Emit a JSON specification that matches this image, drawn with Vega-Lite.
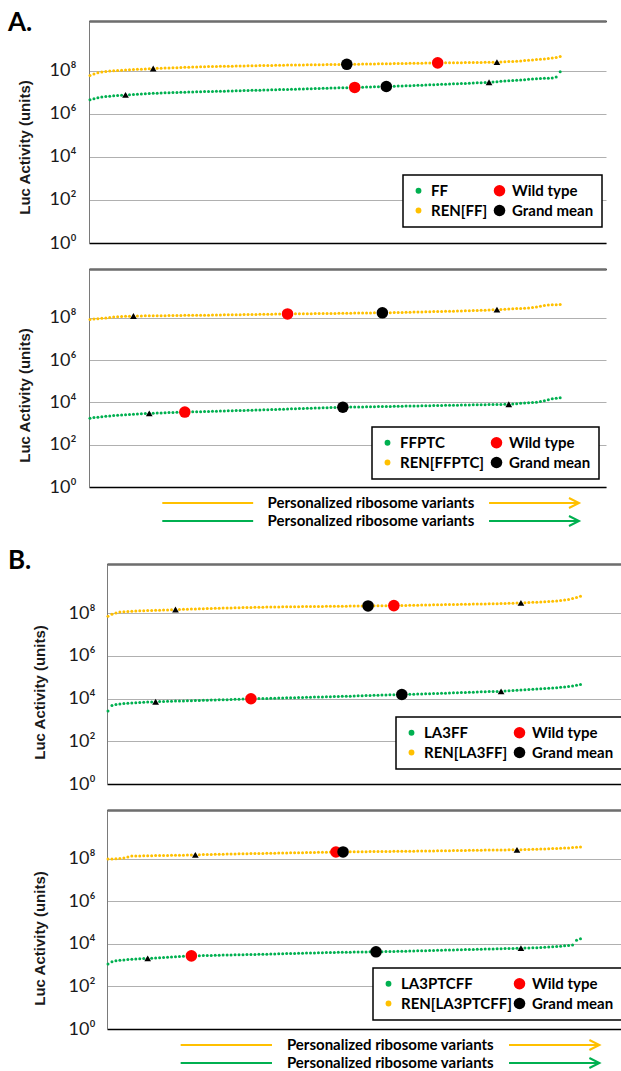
{
"$schema": "https://vega.github.io/schema/vega-lite/v6.json",
"padding": {"left": 8, "top": 10, "right": 0, "bottom": 0},
"background": "white",
"config": {"view": {"stroke": null}, "font": "Lato", "legend": {"orient": "none", "columns": 2, "title": null, "padding": 8, "strokeColor": "#000", "strokeWidth": 1.5, "fillColor": "#fff", "labelFont": "Lato", "labelFontSize": 15, "labelFontWeight": "bold", "labelColor": "#000", "symbolType": "circle", "symbolStrokeWidth": 0, "symbolOpacity": 1, "labelOffset": 5, "columnPadding": 4, "rowPadding": 4, "labelLimit": 300}},
"bounds": "flush",
"spacing": 26,
"resolve": {"scale": {"color": "independent", "size": "independent", "x": "independent", "y": "independent"}, "legend": {"color": "independent", "size": "independent"}},
"datasets": {
"A1_REN": [{"i":1,"v":5.9e7},{"i":2,"v":7.0e7},{"i":3,"v":7.9e7},{"i":4,"v":8.6e7},{"i":5,"v":9.1e7},{"i":6,"v":9.5e7},{"i":7,"v":9.8e7},{"i":8,"v":1.01e8},{"i":9,"v":1.04e8},{"i":10,"v":1.07e8},{"i":11,"v":1.09e8},{"i":12,"v":1.11e8},{"i":13,"v":1.14e8},{"i":14,"v":1.16e8},{"i":15,"v":1.19e8},{"i":16,"v":1.22e8},{"i":17,"v":1.25e8},{"i":18,"v":1.27e8},{"i":19,"v":1.29e8},{"i":20,"v":1.31e8},{"i":21,"v":1.33e8},{"i":22,"v":1.35e8},{"i":23,"v":1.37e8},{"i":24,"v":1.39e8},{"i":25,"v":1.41e8},{"i":26,"v":1.43e8},{"i":27,"v":1.45e8},{"i":28,"v":1.47e8},{"i":29,"v":1.5e8},{"i":30,"v":1.52e8},{"i":31,"v":1.54e8},{"i":32,"v":1.55e8},{"i":33,"v":1.56e8},{"i":34,"v":1.58e8},{"i":35,"v":1.59e8},{"i":36,"v":1.6e8},{"i":37,"v":1.61e8},{"i":38,"v":1.63e8},{"i":39,"v":1.64e8},{"i":40,"v":1.65e8},{"i":41,"v":1.67e8},{"i":42,"v":1.68e8},{"i":43,"v":1.69e8},{"i":44,"v":1.7e8},{"i":45,"v":1.72e8},{"i":46,"v":1.73e8},{"i":47,"v":1.74e8},{"i":48,"v":1.76e8},{"i":49,"v":1.77e8},{"i":50,"v":1.78e8},{"i":51,"v":1.8e8},{"i":52,"v":1.81e8},{"i":53,"v":1.82e8},{"i":54,"v":1.83e8},{"i":55,"v":1.84e8},{"i":56,"v":1.85e8},{"i":57,"v":1.86e8},{"i":58,"v":1.87e8},{"i":59,"v":1.88e8},{"i":60,"v":1.89e8},{"i":61,"v":1.9e8},{"i":62,"v":1.91e8},{"i":63,"v":1.92e8},{"i":64,"v":1.93e8},{"i":65,"v":1.94e8},{"i":66,"v":1.95e8},{"i":67,"v":1.96e8},{"i":68,"v":1.97e8},{"i":69,"v":1.99e8},{"i":70,"v":2.0e8},{"i":71,"v":2.01e8},{"i":72,"v":2.03e8},{"i":73,"v":2.04e8},{"i":74,"v":2.05e8},{"i":75,"v":2.07e8},{"i":76,"v":2.08e8},{"i":77,"v":2.09e8},{"i":78,"v":2.11e8},{"i":79,"v":2.12e8},{"i":80,"v":2.14e8},{"i":81,"v":2.15e8},{"i":82,"v":2.17e8},{"i":83,"v":2.18e8},{"i":84,"v":2.2e8},{"i":85,"v":2.21e8},{"i":86,"v":2.23e8},{"i":87,"v":2.25e8},{"i":88,"v":2.26e8},{"i":89,"v":2.28e8},{"i":90,"v":2.29e8},{"i":91,"v":2.3e8},{"i":92,"v":2.31e8},{"i":93,"v":2.32e8},{"i":94,"v":2.33e8},{"i":95,"v":2.34e8},{"i":96,"v":2.35e8},{"i":97,"v":2.36e8},{"i":98,"v":2.37e8},{"i":99,"v":2.39e8},{"i":100,"v":2.4e8},{"i":101,"v":2.41e8},{"i":102,"v":2.43e8},{"i":103,"v":2.44e8},{"i":104,"v":2.46e8},{"i":105,"v":2.5e8},{"i":106,"v":2.55e8},{"i":107,"v":2.61e8},{"i":108,"v":2.67e8},{"i":109,"v":2.73e8},{"i":110,"v":2.8e8},{"i":111,"v":2.9e8},{"i":112,"v":3.0e8},{"i":113,"v":3.12e8},{"i":114,"v":3.24e8},{"i":115,"v":3.36e8},{"i":116,"v":3.48e8},{"i":117,"v":3.6e8},{"i":118,"v":3.8e8},{"i":119,"v":4.1e8},{"i":120,"v":4.5e8}],
"A1_FF": [{"i":1,"v":4.4e6},{"i":2,"v":5.0e6},{"i":3,"v":5.5e6},{"i":4,"v":5.9e6},{"i":5,"v":6.2e6},{"i":6,"v":6.5e6},{"i":7,"v":6.8e6},{"i":8,"v":7.0e6},{"i":9,"v":7.2e6},{"i":10,"v":7.4e6},{"i":11,"v":7.6e6},{"i":12,"v":7.8e6},{"i":13,"v":8.0e6},{"i":14,"v":8.3e6},{"i":15,"v":8.5e6},{"i":16,"v":8.7e6},{"i":17,"v":8.85e6},{"i":18,"v":9.0e6},{"i":19,"v":9.15e6},{"i":20,"v":9.3e6},{"i":21,"v":9.45e6},{"i":22,"v":9.6e6},{"i":23,"v":9.75e6},{"i":24,"v":9.9e6},{"i":25,"v":1.0e7},{"i":26,"v":1.01e7},{"i":27,"v":1.02e7},{"i":28,"v":1.04e7},{"i":29,"v":1.05e7},{"i":30,"v":1.06e7},{"i":31,"v":1.07e7},{"i":32,"v":1.08e7},{"i":33,"v":1.09e7},{"i":34,"v":1.1e7},{"i":35,"v":1.11e7},{"i":36,"v":1.13e7},{"i":37,"v":1.14e7},{"i":38,"v":1.15e7},{"i":39,"v":1.17e7},{"i":40,"v":1.18e7},{"i":41,"v":1.19e7},{"i":42,"v":1.21e7},{"i":43,"v":1.22e7},{"i":44,"v":1.24e7},{"i":45,"v":1.25e7},{"i":46,"v":1.27e7},{"i":47,"v":1.28e7},{"i":48,"v":1.3e7},{"i":49,"v":1.31e7},{"i":50,"v":1.33e7},{"i":51,"v":1.34e7},{"i":52,"v":1.35e7},{"i":53,"v":1.37e7},{"i":54,"v":1.39e7},{"i":55,"v":1.41e7},{"i":56,"v":1.43e7},{"i":57,"v":1.45e7},{"i":58,"v":1.47e7},{"i":59,"v":1.49e7},{"i":60,"v":1.5e7},{"i":61,"v":1.52e7},{"i":62,"v":1.54e7},{"i":63,"v":1.56e7},{"i":64,"v":1.58e7},{"i":65,"v":1.6e7},{"i":66,"v":1.62e7},{"i":67,"v":1.64e7},{"i":68,"v":1.66e7},{"i":69,"v":1.68e7},{"i":70,"v":1.7e7},{"i":71,"v":1.72e7},{"i":72,"v":1.74e7},{"i":73,"v":1.76e7},{"i":74,"v":1.78e7},{"i":75,"v":1.8e7},{"i":76,"v":1.82e7},{"i":77,"v":1.85e7},{"i":78,"v":1.88e7},{"i":79,"v":1.91e7},{"i":80,"v":1.94e7},{"i":81,"v":1.97e7},{"i":82,"v":2.0e7},{"i":83,"v":2.03e7},{"i":84,"v":2.07e7},{"i":85,"v":2.1e7},{"i":86,"v":2.14e7},{"i":87,"v":2.18e7},{"i":88,"v":2.22e7},{"i":89,"v":2.26e7},{"i":90,"v":2.3e7},{"i":91,"v":2.34e7},{"i":92,"v":2.38e7},{"i":93,"v":2.42e7},{"i":94,"v":2.46e7},{"i":95,"v":2.5e7},{"i":96,"v":2.55e7},{"i":97,"v":2.6e7},{"i":98,"v":2.65e7},{"i":99,"v":2.7e7},{"i":100,"v":2.76e7},{"i":101,"v":2.82e7},{"i":102,"v":2.88e7},{"i":103,"v":2.97e7},{"i":104,"v":3.07e7},{"i":105,"v":3.17e7},{"i":106,"v":3.28e7},{"i":107,"v":3.39e7},{"i":108,"v":3.5e7},{"i":109,"v":3.6e7},{"i":110,"v":3.7e7},{"i":111,"v":3.8e7},{"i":112,"v":3.95e7},{"i":113,"v":4.07e7},{"i":114,"v":4.17e7},{"i":115,"v":4.27e7},{"i":116,"v":4.37e7},{"i":117,"v":4.47e7},{"i":118,"v":4.57e7},{"i":119,"v":5.0e7},{"i":120,"v":8.9e7}],
"A2_REN": [{"i":1,"v":8.3e7},{"i":2,"v":8.6e7},{"i":3,"v":8.9e7},{"i":4,"v":9.3e7},{"i":5,"v":9.8e7},{"i":6,"v":1.03e8},{"i":7,"v":1.07e8},{"i":8,"v":1.1e8},{"i":9,"v":1.13e8},{"i":10,"v":1.16e8},{"i":11,"v":1.18e8},{"i":12,"v":1.2e8},{"i":13,"v":1.21e8},{"i":14,"v":1.21e8},{"i":15,"v":1.22e8},{"i":16,"v":1.23e8},{"i":17,"v":1.23e8},{"i":18,"v":1.24e8},{"i":19,"v":1.25e8},{"i":20,"v":1.25e8},{"i":21,"v":1.26e8},{"i":22,"v":1.27e8},{"i":23,"v":1.27e8},{"i":24,"v":1.28e8},{"i":25,"v":1.29e8},{"i":26,"v":1.29e8},{"i":27,"v":1.3e8},{"i":28,"v":1.3e8},{"i":29,"v":1.31e8},{"i":30,"v":1.31e8},{"i":31,"v":1.32e8},{"i":32,"v":1.33e8},{"i":33,"v":1.34e8},{"i":34,"v":1.35e8},{"i":35,"v":1.36e8},{"i":36,"v":1.36e8},{"i":37,"v":1.37e8},{"i":38,"v":1.38e8},{"i":39,"v":1.39e8},{"i":40,"v":1.4e8},{"i":41,"v":1.41e8},{"i":42,"v":1.42e8},{"i":43,"v":1.43e8},{"i":44,"v":1.44e8},{"i":45,"v":1.45e8},{"i":46,"v":1.46e8},{"i":47,"v":1.47e8},{"i":48,"v":1.48e8},{"i":49,"v":1.49e8},{"i":50,"v":1.5e8},{"i":51,"v":1.51e8},{"i":52,"v":1.52e8},{"i":53,"v":1.52e8},{"i":54,"v":1.53e8},{"i":55,"v":1.54e8},{"i":56,"v":1.55e8},{"i":57,"v":1.55e8},{"i":58,"v":1.56e8},{"i":59,"v":1.57e8},{"i":60,"v":1.58e8},{"i":61,"v":1.59e8},{"i":62,"v":1.6e8},{"i":63,"v":1.6e8},{"i":64,"v":1.61e8},{"i":65,"v":1.62e8},{"i":66,"v":1.63e8},{"i":67,"v":1.64e8},{"i":68,"v":1.65e8},{"i":69,"v":1.66e8},{"i":70,"v":1.67e8},{"i":71,"v":1.67e8},{"i":72,"v":1.68e8},{"i":73,"v":1.69e8},{"i":74,"v":1.7e8},{"i":75,"v":1.7e8},{"i":76,"v":1.72e8},{"i":77,"v":1.73e8},{"i":78,"v":1.75e8},{"i":79,"v":1.76e8},{"i":80,"v":1.78e8},{"i":81,"v":1.8e8},{"i":82,"v":1.82e8},{"i":83,"v":1.84e8},{"i":84,"v":1.86e8},{"i":85,"v":1.88e8},{"i":86,"v":1.9e8},{"i":87,"v":1.92e8},{"i":88,"v":1.94e8},{"i":89,"v":1.96e8},{"i":90,"v":1.98e8},{"i":91,"v":2.0e8},{"i":92,"v":2.02e8},{"i":93,"v":2.04e8},{"i":94,"v":2.07e8},{"i":95,"v":2.09e8},{"i":96,"v":2.12e8},{"i":97,"v":2.14e8},{"i":98,"v":2.17e8},{"i":99,"v":2.2e8},{"i":100,"v":2.23e8},{"i":101,"v":2.27e8},{"i":102,"v":2.31e8},{"i":103,"v":2.35e8},{"i":104,"v":2.4e8},{"i":105,"v":2.45e8},{"i":106,"v":2.51e8},{"i":107,"v":2.57e8},{"i":108,"v":2.63e8},{"i":109,"v":2.69e8},{"i":110,"v":2.75e8},{"i":111,"v":2.81e8},{"i":112,"v":2.88e8},{"i":113,"v":3.0e8},{"i":114,"v":3.16e8},{"i":115,"v":3.45e8},{"i":116,"v":3.8e8},{"i":117,"v":3.95e8},{"i":118,"v":4.05e8},{"i":119,"v":4.1e8},{"i":120,"v":4.17e8}],
"A2_FF": [{"i":1,"v":1.78e3},{"i":2,"v":1.9e3},{"i":3,"v":2.0e3},{"i":4,"v":2.1e3},{"i":5,"v":2.2e3},{"i":6,"v":2.29e3},{"i":7,"v":2.37e3},{"i":8,"v":2.44e3},{"i":9,"v":2.51e3},{"i":10,"v":2.58e3},{"i":11,"v":2.65e3},{"i":12,"v":2.72e3},{"i":13,"v":2.8e3},{"i":14,"v":2.88e3},{"i":15,"v":2.95e3},{"i":16,"v":3.02e3},{"i":17,"v":3.07e3},{"i":18,"v":3.12e3},{"i":19,"v":3.17e3},{"i":20,"v":3.22e3},{"i":21,"v":3.27e3},{"i":22,"v":3.32e3},{"i":23,"v":3.37e3},{"i":24,"v":3.42e3},{"i":25,"v":3.47e3},{"i":26,"v":3.51e3},{"i":27,"v":3.55e3},{"i":28,"v":3.6e3},{"i":29,"v":3.64e3},{"i":30,"v":3.69e3},{"i":31,"v":3.73e3},{"i":32,"v":3.78e3},{"i":33,"v":3.82e3},{"i":34,"v":3.87e3},{"i":35,"v":3.92e3},{"i":36,"v":3.97e3},{"i":37,"v":4.02e3},{"i":38,"v":4.07e3},{"i":39,"v":4.12e3},{"i":40,"v":4.17e3},{"i":41,"v":4.22e3},{"i":42,"v":4.27e3},{"i":43,"v":4.33e3},{"i":44,"v":4.39e3},{"i":45,"v":4.45e3},{"i":46,"v":4.52e3},{"i":47,"v":4.58e3},{"i":48,"v":4.64e3},{"i":49,"v":4.71e3},{"i":50,"v":4.78e3},{"i":51,"v":4.85e3},{"i":52,"v":4.92e3},{"i":53,"v":4.99e3},{"i":54,"v":5.06e3},{"i":55,"v":5.13e3},{"i":56,"v":5.2e3},{"i":57,"v":5.27e3},{"i":58,"v":5.35e3},{"i":59,"v":5.42e3},{"i":60,"v":5.5e3},{"i":61,"v":5.58e3},{"i":62,"v":5.66e3},{"i":63,"v":5.74e3},{"i":64,"v":5.82e3},{"i":65,"v":5.89e3},{"i":66,"v":5.93e3},{"i":67,"v":5.97e3},{"i":68,"v":6.02e3},{"i":69,"v":6.06e3},{"i":70,"v":6.11e3},{"i":71,"v":6.15e3},{"i":72,"v":6.2e3},{"i":73,"v":6.25e3},{"i":74,"v":6.3e3},{"i":75,"v":6.35e3},{"i":76,"v":6.4e3},{"i":77,"v":6.45e3},{"i":78,"v":6.5e3},{"i":79,"v":6.55e3},{"i":80,"v":6.6e3},{"i":81,"v":6.65e3},{"i":82,"v":6.7e3},{"i":83,"v":6.75e3},{"i":84,"v":6.8e3},{"i":85,"v":6.86e3},{"i":86,"v":6.92e3},{"i":87,"v":6.98e3},{"i":88,"v":7.04e3},{"i":89,"v":7.1e3},{"i":90,"v":7.16e3},{"i":91,"v":7.2e3},{"i":92,"v":7.24e3},{"i":93,"v":7.3e3},{"i":94,"v":7.36e3},{"i":95,"v":7.42e3},{"i":96,"v":7.48e3},{"i":97,"v":7.54e3},{"i":98,"v":7.6e3},{"i":99,"v":7.66e3},{"i":100,"v":7.72e3},{"i":101,"v":7.78e3},{"i":102,"v":7.84e3},{"i":103,"v":7.9e3},{"i":104,"v":7.96e3},{"i":105,"v":8.02e3},{"i":106,"v":8.08e3},{"i":107,"v":8.13e3},{"i":108,"v":8.4e3},{"i":109,"v":8.7e3},{"i":110,"v":9.0e3},{"i":111,"v":9.3e3},{"i":112,"v":9.6e3},{"i":113,"v":9.9e3},{"i":114,"v":1.02e4},{"i":115,"v":1.1e4},{"i":116,"v":1.2e4},{"i":117,"v":1.32e4},{"i":118,"v":1.48e4},{"i":119,"v":1.58e4},{"i":120,"v":1.66e4}],
"B1_REN": [{"i":1,"v":7.2e7},{"i":2,"v":8.9e7},{"i":3,"v":1.02e8},{"i":4,"v":1.12e8},{"i":5,"v":1.17e8},{"i":6,"v":1.2e8},{"i":7,"v":1.23e8},{"i":8,"v":1.26e8},{"i":9,"v":1.28e8},{"i":10,"v":1.3e8},{"i":11,"v":1.32e8},{"i":12,"v":1.34e8},{"i":13,"v":1.36e8},{"i":14,"v":1.38e8},{"i":15,"v":1.4e8},{"i":16,"v":1.42e8},{"i":17,"v":1.45e8},{"i":18,"v":1.48e8},{"i":19,"v":1.5e8},{"i":20,"v":1.52e8},{"i":21,"v":1.54e8},{"i":22,"v":1.56e8},{"i":23,"v":1.58e8},{"i":24,"v":1.6e8},{"i":25,"v":1.62e8},{"i":26,"v":1.64e8},{"i":27,"v":1.66e8},{"i":28,"v":1.68e8},{"i":29,"v":1.7e8},{"i":30,"v":1.72e8},{"i":31,"v":1.74e8},{"i":32,"v":1.76e8},{"i":33,"v":1.78e8},{"i":34,"v":1.8e8},{"i":35,"v":1.82e8},{"i":36,"v":1.84e8},{"i":37,"v":1.86e8},{"i":38,"v":1.87e8},{"i":39,"v":1.89e8},{"i":40,"v":1.9e8},{"i":41,"v":1.92e8},{"i":42,"v":1.93e8},{"i":43,"v":1.95e8},{"i":44,"v":1.96e8},{"i":45,"v":1.97e8},{"i":46,"v":1.98e8},{"i":47,"v":1.99e8},{"i":48,"v":2.0e8},{"i":49,"v":2.01e8},{"i":50,"v":2.02e8},{"i":51,"v":2.03e8},{"i":52,"v":2.04e8},{"i":53,"v":2.05e8},{"i":54,"v":2.06e8},{"i":55,"v":2.07e8},{"i":56,"v":2.08e8},{"i":57,"v":2.09e8},{"i":58,"v":2.1e8},{"i":59,"v":2.11e8},{"i":60,"v":2.12e8},{"i":61,"v":2.13e8},{"i":62,"v":2.14e8},{"i":63,"v":2.15e8},{"i":64,"v":2.16e8},{"i":65,"v":2.17e8},{"i":66,"v":2.18e8},{"i":67,"v":2.19e8},{"i":68,"v":2.2e8},{"i":69,"v":2.21e8},{"i":70,"v":2.22e8},{"i":71,"v":2.23e8},{"i":72,"v":2.24e8},{"i":73,"v":2.25e8},{"i":74,"v":2.27e8},{"i":75,"v":2.29e8},{"i":76,"v":2.31e8},{"i":77,"v":2.33e8},{"i":78,"v":2.35e8},{"i":79,"v":2.37e8},{"i":80,"v":2.39e8},{"i":81,"v":2.41e8},{"i":82,"v":2.43e8},{"i":83,"v":2.45e8},{"i":84,"v":2.47e8},{"i":85,"v":2.49e8},{"i":86,"v":2.51e8},{"i":87,"v":2.53e8},{"i":88,"v":2.55e8},{"i":89,"v":2.57e8},{"i":90,"v":2.59e8},{"i":91,"v":2.61e8},{"i":92,"v":2.63e8},{"i":93,"v":2.65e8},{"i":94,"v":2.67e8},{"i":95,"v":2.69e8},{"i":96,"v":2.71e8},{"i":97,"v":2.73e8},{"i":98,"v":2.76e8},{"i":99,"v":2.79e8},{"i":100,"v":2.82e8},{"i":101,"v":2.85e8},{"i":102,"v":2.88e8},{"i":103,"v":2.92e8},{"i":104,"v":2.97e8},{"i":105,"v":3.02e8},{"i":106,"v":3.08e8},{"i":107,"v":3.14e8},{"i":108,"v":3.2e8},{"i":109,"v":3.27e8},{"i":110,"v":3.34e8},{"i":111,"v":3.42e8},{"i":112,"v":3.5e8},{"i":113,"v":3.6e8},{"i":114,"v":3.72e8},{"i":115,"v":3.88e8},{"i":116,"v":4.1e8},{"i":117,"v":4.37e8},{"i":118,"v":4.8e8},{"i":119,"v":5.4e8},{"i":120,"v":6.2e8}],
"B1_FF": [{"i":1,"v":2.6e3},{"i":2,"v":4.7e3},{"i":3,"v":5.3e3},{"i":4,"v":5.6e3},{"i":5,"v":5.8e3},{"i":6,"v":6.0e3},{"i":7,"v":6.2e3},{"i":8,"v":6.4e3},{"i":9,"v":6.55e3},{"i":10,"v":6.7e3},{"i":11,"v":6.85e3},{"i":12,"v":7.0e3},{"i":13,"v":7.1e3},{"i":14,"v":7.2e3},{"i":15,"v":7.3e3},{"i":16,"v":7.4e3},{"i":17,"v":7.5e3},{"i":18,"v":7.6e3},{"i":19,"v":7.7e3},{"i":20,"v":7.8e3},{"i":21,"v":7.9e3},{"i":22,"v":8.0e3},{"i":23,"v":8.1e3},{"i":24,"v":8.2e3},{"i":25,"v":8.3e3},{"i":26,"v":8.4e3},{"i":27,"v":8.5e3},{"i":28,"v":8.6e3},{"i":29,"v":8.7e3},{"i":30,"v":8.8e3},{"i":31,"v":8.9e3},{"i":32,"v":9.05e3},{"i":33,"v":9.2e3},{"i":34,"v":9.35e3},{"i":35,"v":9.5e3},{"i":36,"v":9.65e3},{"i":37,"v":9.8e3},{"i":38,"v":9.9e3},{"i":39,"v":1.0e4},{"i":40,"v":1.01e4},{"i":41,"v":1.02e4},{"i":42,"v":1.03e4},{"i":43,"v":1.04e4},{"i":44,"v":1.06e4},{"i":45,"v":1.07e4},{"i":46,"v":1.08e4},{"i":47,"v":1.09e4},{"i":48,"v":1.1e4},{"i":49,"v":1.12e4},{"i":50,"v":1.13e4},{"i":51,"v":1.14e4},{"i":52,"v":1.16e4},{"i":53,"v":1.17e4},{"i":54,"v":1.18e4},{"i":55,"v":1.2e4},{"i":56,"v":1.21e4},{"i":57,"v":1.23e4},{"i":58,"v":1.24e4},{"i":59,"v":1.26e4},{"i":60,"v":1.27e4},{"i":61,"v":1.29e4},{"i":62,"v":1.3e4},{"i":63,"v":1.32e4},{"i":64,"v":1.34e4},{"i":65,"v":1.36e4},{"i":66,"v":1.38e4},{"i":67,"v":1.4e4},{"i":68,"v":1.42e4},{"i":69,"v":1.44e4},{"i":70,"v":1.46e4},{"i":71,"v":1.48e4},{"i":72,"v":1.5e4},{"i":73,"v":1.52e4},{"i":74,"v":1.54e4},{"i":75,"v":1.55e4},{"i":76,"v":1.57e4},{"i":77,"v":1.59e4},{"i":78,"v":1.61e4},{"i":79,"v":1.63e4},{"i":80,"v":1.65e4},{"i":81,"v":1.67e4},{"i":82,"v":1.69e4},{"i":83,"v":1.71e4},{"i":84,"v":1.73e4},{"i":85,"v":1.76e4},{"i":86,"v":1.79e4},{"i":87,"v":1.82e4},{"i":88,"v":1.85e4},{"i":89,"v":1.88e4},{"i":90,"v":1.91e4},{"i":91,"v":1.94e4},{"i":92,"v":1.97e4},{"i":93,"v":2.0e4},{"i":94,"v":2.03e4},{"i":95,"v":2.06e4},{"i":96,"v":2.09e4},{"i":97,"v":2.12e4},{"i":98,"v":2.15e4},{"i":99,"v":2.17e4},{"i":100,"v":2.19e4},{"i":101,"v":2.25e4},{"i":102,"v":2.31e4},{"i":103,"v":2.37e4},{"i":104,"v":2.44e4},{"i":105,"v":2.51e4},{"i":106,"v":2.58e4},{"i":107,"v":2.65e4},{"i":108,"v":2.72e4},{"i":109,"v":2.8e4},{"i":110,"v":2.88e4},{"i":111,"v":2.96e4},{"i":112,"v":3.05e4},{"i":113,"v":3.14e4},{"i":114,"v":3.24e4},{"i":115,"v":3.35e4},{"i":116,"v":3.5e4},{"i":117,"v":3.7e4},{"i":118,"v":3.9e4},{"i":119,"v":4.2e4},{"i":120,"v":4.5e4}],
"B2_REN": [{"i":1,"v":9.8e7},{"i":2,"v":1.0e8},{"i":3,"v":1.03e8},{"i":4,"v":1.06e8},{"i":5,"v":1.1e8},{"i":6,"v":1.24e8},{"i":7,"v":1.36e8},{"i":8,"v":1.38e8},{"i":9,"v":1.39e8},{"i":10,"v":1.4e8},{"i":11,"v":1.41e8},{"i":12,"v":1.42e8},{"i":13,"v":1.43e8},{"i":14,"v":1.44e8},{"i":15,"v":1.45e8},{"i":16,"v":1.46e8},{"i":17,"v":1.47e8},{"i":18,"v":1.48e8},{"i":19,"v":1.49e8},{"i":20,"v":1.5e8},{"i":21,"v":1.52e8},{"i":22,"v":1.54e8},{"i":23,"v":1.56e8},{"i":24,"v":1.58e8},{"i":25,"v":1.6e8},{"i":26,"v":1.61e8},{"i":27,"v":1.63e8},{"i":28,"v":1.64e8},{"i":29,"v":1.66e8},{"i":30,"v":1.67e8},{"i":31,"v":1.69e8},{"i":32,"v":1.7e8},{"i":33,"v":1.72e8},{"i":34,"v":1.73e8},{"i":35,"v":1.75e8},{"i":36,"v":1.76e8},{"i":37,"v":1.78e8},{"i":38,"v":1.79e8},{"i":39,"v":1.81e8},{"i":40,"v":1.82e8},{"i":41,"v":1.84e8},{"i":42,"v":1.85e8},{"i":43,"v":1.87e8},{"i":44,"v":1.88e8},{"i":45,"v":1.9e8},{"i":46,"v":1.91e8},{"i":47,"v":1.93e8},{"i":48,"v":1.94e8},{"i":49,"v":1.96e8},{"i":50,"v":1.97e8},{"i":51,"v":1.99e8},{"i":52,"v":2.0e8},{"i":53,"v":2.02e8},{"i":54,"v":2.04e8},{"i":55,"v":2.06e8},{"i":56,"v":2.08e8},{"i":57,"v":2.1e8},{"i":58,"v":2.12e8},{"i":59,"v":2.13e8},{"i":60,"v":2.14e8},{"i":61,"v":2.15e8},{"i":62,"v":2.16e8},{"i":63,"v":2.17e8},{"i":64,"v":2.18e8},{"i":65,"v":2.19e8},{"i":66,"v":2.2e8},{"i":67,"v":2.21e8},{"i":68,"v":2.22e8},{"i":69,"v":2.23e8},{"i":70,"v":2.24e8},{"i":71,"v":2.25e8},{"i":72,"v":2.26e8},{"i":73,"v":2.27e8},{"i":74,"v":2.28e8},{"i":75,"v":2.29e8},{"i":76,"v":2.3e8},{"i":77,"v":2.31e8},{"i":78,"v":2.32e8},{"i":79,"v":2.34e8},{"i":80,"v":2.35e8},{"i":81,"v":2.36e8},{"i":82,"v":2.37e8},{"i":83,"v":2.39e8},{"i":84,"v":2.4e8},{"i":85,"v":2.42e8},{"i":86,"v":2.43e8},{"i":87,"v":2.45e8},{"i":88,"v":2.46e8},{"i":89,"v":2.48e8},{"i":90,"v":2.5e8},{"i":91,"v":2.51e8},{"i":92,"v":2.53e8},{"i":93,"v":2.55e8},{"i":94,"v":2.56e8},{"i":95,"v":2.58e8},{"i":96,"v":2.6e8},{"i":97,"v":2.61e8},{"i":98,"v":2.63e8},{"i":99,"v":2.64e8},{"i":100,"v":2.65e8},{"i":101,"v":2.66e8},{"i":102,"v":2.67e8},{"i":103,"v":2.68e8},{"i":104,"v":2.69e8},{"i":105,"v":2.72e8},{"i":106,"v":2.75e8},{"i":107,"v":2.78e8},{"i":108,"v":2.82e8},{"i":109,"v":2.86e8},{"i":110,"v":2.9e8},{"i":111,"v":2.95e8},{"i":112,"v":3.0e8},{"i":113,"v":3.05e8},{"i":114,"v":3.1e8},{"i":115,"v":3.16e8},{"i":116,"v":3.22e8},{"i":117,"v":3.3e8},{"i":118,"v":3.4e8},{"i":119,"v":3.5e8},{"i":120,"v":3.6e8}],
"B2_FF": [{"i":1,"v":1.15e3},{"i":2,"v":1.45e3},{"i":3,"v":1.62e3},{"i":4,"v":1.7e3},{"i":5,"v":1.77e3},{"i":6,"v":1.84e3},{"i":7,"v":1.9e3},{"i":8,"v":1.95e3},{"i":9,"v":2.0e3},{"i":10,"v":2.05e3},{"i":11,"v":2.09e3},{"i":12,"v":2.15e3},{"i":13,"v":2.2e3},{"i":14,"v":2.26e3},{"i":15,"v":2.32e3},{"i":16,"v":2.38e3},{"i":17,"v":2.44e3},{"i":18,"v":2.5e3},{"i":19,"v":2.57e3},{"i":20,"v":2.63e3},{"i":21,"v":2.69e3},{"i":22,"v":2.75e3},{"i":23,"v":2.78e3},{"i":24,"v":2.81e3},{"i":25,"v":2.84e3},{"i":26,"v":2.87e3},{"i":27,"v":2.9e3},{"i":28,"v":2.93e3},{"i":29,"v":2.96e3},{"i":30,"v":2.99e3},{"i":31,"v":3.02e3},{"i":32,"v":3.05e3},{"i":33,"v":3.08e3},{"i":34,"v":3.11e3},{"i":35,"v":3.14e3},{"i":36,"v":3.17e3},{"i":37,"v":3.2e3},{"i":38,"v":3.23e3},{"i":39,"v":3.26e3},{"i":40,"v":3.29e3},{"i":41,"v":3.32e3},{"i":42,"v":3.36e3},{"i":43,"v":3.4e3},{"i":44,"v":3.44e3},{"i":45,"v":3.48e3},{"i":46,"v":3.52e3},{"i":47,"v":3.56e3},{"i":48,"v":3.6e3},{"i":49,"v":3.64e3},{"i":50,"v":3.68e3},{"i":51,"v":3.72e3},{"i":52,"v":3.76e3},{"i":53,"v":3.8e3},{"i":54,"v":3.84e3},{"i":55,"v":3.88e3},{"i":56,"v":3.92e3},{"i":57,"v":3.96e3},{"i":58,"v":4.0e3},{"i":59,"v":4.03e3},{"i":60,"v":4.06e3},{"i":61,"v":4.09e3},{"i":62,"v":4.12e3},{"i":63,"v":4.15e3},{"i":64,"v":4.18e3},{"i":65,"v":4.2e3},{"i":66,"v":4.22e3},{"i":67,"v":4.25e3},{"i":68,"v":4.27e3},{"i":69,"v":4.3e3},{"i":70,"v":4.34e3},{"i":71,"v":4.38e3},{"i":72,"v":4.42e3},{"i":73,"v":4.46e3},{"i":74,"v":4.5e3},{"i":75,"v":4.55e3},{"i":76,"v":4.6e3},{"i":77,"v":4.65e3},{"i":78,"v":4.7e3},{"i":79,"v":4.75e3},{"i":80,"v":4.8e3},{"i":81,"v":4.85e3},{"i":82,"v":4.9e3},{"i":83,"v":4.96e3},{"i":84,"v":5.02e3},{"i":85,"v":5.08e3},{"i":86,"v":5.14e3},{"i":87,"v":5.2e3},{"i":88,"v":5.26e3},{"i":89,"v":5.32e3},{"i":90,"v":5.38e3},{"i":91,"v":5.44e3},{"i":92,"v":5.5e3},{"i":93,"v":5.56e3},{"i":94,"v":5.62e3},{"i":95,"v":5.68e3},{"i":96,"v":5.74e3},{"i":97,"v":5.8e3},{"i":98,"v":5.86e3},{"i":99,"v":5.92e3},{"i":100,"v":5.98e3},{"i":101,"v":6.04e3},{"i":102,"v":6.1e3},{"i":103,"v":6.17e3},{"i":104,"v":6.24e3},{"i":105,"v":6.31e3},{"i":106,"v":6.4e3},{"i":107,"v":6.5e3},{"i":108,"v":6.6e3},{"i":109,"v":6.7e3},{"i":110,"v":6.85e3},{"i":111,"v":7.0e3},{"i":112,"v":7.2e3},{"i":113,"v":7.4e3},{"i":114,"v":7.6e3},{"i":115,"v":7.9e3},{"i":116,"v":8.2e3},{"i":117,"v":8.5e3},{"i":118,"v":8.9e3},{"i":119,"v":1.48e4},{"i":120,"v":1.78e4}],
"A1_tri": [{"i":17,"v":1.25e8},{"i":104,"v":2.46e8},{"i":10,"v":7.4e6},{"i":102,"v":2.88e7}],
"A1_mk": [{"m":"Wild type","i":89,"v":2.28e8},{"m":"Wild type","i":68,"v":1.66e7},{"m":"Grand mean","i":66,"v":1.95e8},{"m":"Grand mean","i":76,"v":1.82e7}],
"A2_tri": [{"i":12,"v":1.2e8},{"i":104,"v":2.4e8},{"i":16,"v":3.02e3},{"i":107,"v":8.13e3}],
"A2_mk": [{"m":"Wild type","i":51,"v":1.51e8},{"m":"Wild type","i":25,"v":3.47e3},{"m":"Grand mean","i":75,"v":1.7e8},{"m":"Grand mean","i":65,"v":5.89e3}],
"B1_tri": [{"i":18,"v":1.48e8},{"i":105,"v":3.02e8},{"i":13,"v":7.1e3},{"i":100,"v":2.19e4}],
"B1_mk": [{"m":"Wild type","i":73,"v":2.25e8},{"m":"Wild type","i":37,"v":9.8e3},{"m":"Grand mean","i":66.5,"v":2.18e8},{"m":"Grand mean","i":75,"v":1.55e4}],
"B2_tri": [{"i":23,"v":1.56e8},{"i":104,"v":2.69e8},{"i":11,"v":2.09e3},{"i":105,"v":6.31e3}],
"B2_mk": [{"m":"Wild type","i":58.4,"v":2.12e8},{"m":"Wild type","i":22,"v":2.75e3},{"m":"Grand mean","i":60.2,"v":2.14e8},{"m":"Grand mean","i":68.5,"v":4.27e3}],
"arrows": [{"line":"REN"},{"line":"FF"}]
},
"vconcat": [
{
"width": 532, "height": 222,
"title": {"text": "A.", "anchor": "start", "frame": "group", "orient": "top", "offset": -36, "dx": -81, "baseline": "alphabetic", "font": "Lato", "fontSize": 26, "fontWeight": "bold", "color": "#000"},
"resolve": {"axis": {"x": "independent"}},
"encoding": {
"x": {"field": "i", "type": "quantitative", "scale": {"domain": [0.75, 131.6], "range": [0, 517], "nice": false, "zero": false}, "axis": {"domain": true, "domainColor": "#000", "domainWidth": 1.5, "ticks": false, "labels": false, "grid": false, "title": null}},
"y": {"field": "v", "type": "quantitative", "scale": {"type": "log", "domain": [1, 20000000000], "nice": false}, "axis": {"values": [1, 100, 10000, 1000000, 100000000], "labelExpr": "datum.value == 1 ? '10⁰' : datum.value == 100 ? '10²' : datum.value == 10000 ? '10⁴' : datum.value == 1000000 ? '10⁶' : datum.value == 100000000 ? '10⁸' : ''", "grid": true, "gridColor": "#b0b0b0", "gridWidth": 1, "domainColor": "#7a7a7a", "domainWidth": 1, "ticks": false, "labelFlush": false, "labelOverlap": false, "labelFont": "Lato, Noto Sans", "labelFontSize": 18, "labelColor": "#1a1a1a", "labelPadding": 13, "title": "Luc Activity (units)", "titleFont": "Liberation Sans", "titleFontSize": 15, "titleFontWeight": "bold", "titleColor": "#1a1a1a", "titleX": -65, "titleY": 126, "titleBaseline": "middle", "offset": 0}}
},
"layer": [
{"data": {"name": "A1_REN"}, "mark": {"type": "circle", "size": 9, "color": "#FFC000", "opacity": 1}},
{"data": {"name": "A1_FF"}, "mark": {"type": "circle", "size": 9, "color": "#00B050", "opacity": 1}},
{"data": {"name": "A1_tri"}, "mark": {"type": "point", "shape": "triangle-up", "filled": true, "size": 45, "color": "#000", "opacity": 1}},
{"data": {"name": "A1_mk"}, "mark": {"type": "circle", "opacity": 1}, "encoding": {
"x": {"field": "i", "type": "quantitative", "axis": {"orient": "top", "domain": true, "domainColor": "#6e6e6e", "domainWidth": 1.2, "ticks": false, "labels": false, "grid": false, "title": null}},
"color": {"field": "m", "type": "nominal", "scale": {"domain": ["FF", "REN[FF]", "Wild type", "Grand mean"], "range": ["#00B050", "#FFC000", "#FF0000", "#000000"]}, "legend": {"legendX": 314, "legendY": 154}},
"size": {"field": "m", "type": "nominal", "scale": {"type": "ordinal", "domain": ["FF", "REN[FF]", "Wild type", "Grand mean"], "range": [34, 34, 133, 133]}, "legend": {"legendX": 314, "legendY": 154}}}}
]
},
{
"width": 532, "height": 218,
"resolve": {"axis": {"x": "independent"}},
"encoding": {
"x": {"field": "i", "type": "quantitative", "scale": {"domain": [0.75, 131.6], "range": [0, 517], "nice": false, "zero": false}, "axis": {"domain": true, "domainColor": "#000", "domainWidth": 1.5, "ticks": false, "labels": false, "grid": false, "title": null}},
"y": {"field": "v", "type": "quantitative", "scale": {"type": "log", "domain": [1, 20000000000], "nice": false}, "axis": {"values": [1, 100, 10000, 1000000, 100000000], "labelExpr": "datum.value == 1 ? '10⁰' : datum.value == 100 ? '10²' : datum.value == 10000 ? '10⁴' : datum.value == 1000000 ? '10⁶' : datum.value == 100000000 ? '10⁸' : ''", "grid": true, "gridColor": "#b0b0b0", "gridWidth": 1, "domainColor": "#7a7a7a", "domainWidth": 1, "ticks": false, "labelFlush": false, "labelOverlap": false, "labelFont": "Lato, Noto Sans", "labelFontSize": 18, "labelColor": "#1a1a1a", "labelPadding": 13, "title": "Luc Activity (units)", "titleFont": "Liberation Sans", "titleFontSize": 15, "titleFontWeight": "bold", "titleColor": "#1a1a1a", "titleX": -65, "titleY": 126, "titleBaseline": "middle", "offset": 0}}
},
"layer": [
{"data": {"name": "A2_REN"}, "mark": {"type": "circle", "size": 9, "color": "#FFC000", "opacity": 1}},
{"data": {"name": "A2_FF"}, "mark": {"type": "circle", "size": 9, "color": "#00B050", "opacity": 1}},
{"data": {"name": "A2_tri"}, "mark": {"type": "point", "shape": "triangle-up", "filled": true, "size": 45, "color": "#000", "opacity": 1}},
{"data": {"name": "A2_mk"}, "mark": {"type": "circle", "opacity": 1}, "encoding": {
"x": {"field": "i", "type": "quantitative", "axis": {"orient": "top", "domain": true, "domainColor": "#6e6e6e", "domainWidth": 1.2, "ticks": false, "labels": false, "grid": false, "title": null}},
"color": {"field": "m", "type": "nominal", "scale": {"domain": ["FFPTC", "REN[FFPTC]", "Wild type", "Grand mean"], "range": ["#00B050", "#FFC000", "#FF0000", "#000000"]}, "legend": {"legendX": 283, "legendY": 158}},
"size": {"field": "m", "type": "nominal", "scale": {"type": "ordinal", "domain": ["FFPTC", "REN[FFPTC]", "Wild type", "Grand mean"], "range": [34, 34, 133, 133]}, "legend": {"legendX": 283, "legendY": 158}}}}
]
},
{
"width": 532, "height": 25,
"data": {"name": "arrows"},
"encoding": {"y": {"field": "line", "type": "nominal", "scale": {"type": "point", "domain": ["REN", "FF"], "range": [-10, 8], "padding": 0}, "axis": null}},
"layer": [
{"mark": {"type": "rule", "strokeWidth": 2}, "encoding": {"x": {"datum": 19.3, "type": "quantitative", "scale": {"domain": [0.75, 131.6], "range": [0, 517], "nice": false, "zero": false}, "axis": null}, "x2": {"datum": 42.3}, "color": {"field": "line", "type": "nominal", "scale": {"domain": ["REN", "FF"], "range": ["#FFC000", "#00B050"]}, "legend": null}}},
{"mark": {"type": "rule", "strokeWidth": 2}, "encoding": {"x": {"datum": 102, "type": "quantitative"}, "x2": {"datum": 124.7}, "color": {"field": "line", "type": "nominal"}}},
{"mark": {"type": "point", "shape": "M-1,-1L1,0L-1,1", "filled": false, "size": 100, "strokeWidth": 2, "opacity": 1}, "encoding": {"x": {"datum": 123.5, "type": "quantitative"}, "color": {"field": "line", "type": "nominal"}}},
{"mark": {"type": "text", "font": "Lato", "fontWeight": "bold", "fontSize": 15, "color": "#000", "align": "center", "baseline": "middle"}, "encoding": {"x": {"datum": 72.1, "type": "quantitative"}, "text": {"value": "Personalized ribosome variants"}}}
]
},
{
"width": 532, "height": 220,
"title": {"text": "B.", "anchor": "start", "frame": "group", "orient": "top", "offset": -31, "dx": -81, "baseline": "alphabetic", "font": "Lato", "fontSize": 26, "fontWeight": "bold", "color": "#000"},
"resolve": {"axis": {"x": "independent"}},
"encoding": {
"x": {"field": "i", "type": "quantitative", "scale": {"domain": [0.75, 130.2], "range": [18, 532], "nice": false, "zero": false}, "axis": {"domain": true, "domainColor": "#000", "domainWidth": 1.5, "ticks": false, "labels": false, "grid": false, "title": null}},
"y": {"field": "v", "type": "quantitative", "scale": {"type": "log", "domain": [1, 20000000000], "nice": false}, "axis": {"values": [1, 100, 10000, 1000000, 100000000], "labelExpr": "datum.value == 1 ? '10⁰' : datum.value == 100 ? '10²' : datum.value == 10000 ? '10⁴' : datum.value == 1000000 ? '10⁶' : datum.value == 100000000 ? '10⁸' : ''", "grid": true, "gridColor": "#b0b0b0", "gridWidth": 1, "domainColor": "#7a7a7a", "domainWidth": 1, "ticks": false, "labelFlush": false, "labelOverlap": false, "labelFont": "Lato, Noto Sans", "labelFontSize": 18, "labelColor": "#1a1a1a", "labelPadding": 12, "title": "Luc Activity (units)", "titleFont": "Liberation Sans", "titleFontSize": 15, "titleFontWeight": "bold", "titleColor": "#1a1a1a", "titleX": -68, "titleY": 128, "titleBaseline": "middle", "offset": -18}}
},
"layer": [
{"data": {"name": "B1_REN"}, "mark": {"type": "circle", "size": 9, "color": "#FFC000", "opacity": 1}},
{"data": {"name": "B1_FF"}, "mark": {"type": "circle", "size": 9, "color": "#00B050", "opacity": 1}},
{"data": {"name": "B1_tri"}, "mark": {"type": "point", "shape": "triangle-up", "filled": true, "size": 45, "color": "#000", "opacity": 1}},
{"data": {"name": "B1_mk"}, "mark": {"type": "circle", "opacity": 1}, "encoding": {
"x": {"field": "i", "type": "quantitative", "axis": {"orient": "top", "domain": true, "domainColor": "#6e6e6e", "domainWidth": 1.2, "ticks": false, "labels": false, "grid": false, "title": null}},
"color": {"field": "m", "type": "nominal", "scale": {"domain": ["LA3FF", "REN[LA3FF]", "Wild type", "Grand mean"], "range": ["#00B050", "#FFC000", "#FF0000", "#000000"]}, "legend": {"legendX": 307, "legendY": 153}},
"size": {"field": "m", "type": "nominal", "scale": {"type": "ordinal", "domain": ["LA3FF", "REN[LA3FF]", "Wild type", "Grand mean"], "range": [34, 34, 133, 133]}, "legend": {"legendX": 307, "legendY": 153}}}}
]
},
{
"width": 532, "height": 219,
"resolve": {"axis": {"x": "independent"}},
"encoding": {
"x": {"field": "i", "type": "quantitative", "scale": {"domain": [0.75, 130.2], "range": [18, 532], "nice": false, "zero": false}, "axis": {"domain": true, "domainColor": "#000", "domainWidth": 1.5, "ticks": false, "labels": false, "grid": false, "title": null}},
"y": {"field": "v", "type": "quantitative", "scale": {"type": "log", "domain": [1, 20000000000], "nice": false}, "axis": {"values": [1, 100, 10000, 1000000, 100000000], "labelExpr": "datum.value == 1 ? '10⁰' : datum.value == 100 ? '10²' : datum.value == 10000 ? '10⁴' : datum.value == 1000000 ? '10⁶' : datum.value == 100000000 ? '10⁸' : ''", "grid": true, "gridColor": "#b0b0b0", "gridWidth": 1, "domainColor": "#7a7a7a", "domainWidth": 1, "ticks": false, "labelFlush": false, "labelOverlap": false, "labelFont": "Lato, Noto Sans", "labelFontSize": 18, "labelColor": "#1a1a1a", "labelPadding": 12, "title": "Luc Activity (units)", "titleFont": "Liberation Sans", "titleFontSize": 15, "titleFontWeight": "bold", "titleColor": "#1a1a1a", "titleX": -68, "titleY": 128, "titleBaseline": "middle", "offset": -18}}
},
"layer": [
{"data": {"name": "B2_REN"}, "mark": {"type": "circle", "size": 9, "color": "#FFC000", "opacity": 1}},
{"data": {"name": "B2_FF"}, "mark": {"type": "circle", "size": 9, "color": "#00B050", "opacity": 1}},
{"data": {"name": "B2_tri"}, "mark": {"type": "point", "shape": "triangle-up", "filled": true, "size": 45, "color": "#000", "opacity": 1}},
{"data": {"name": "B2_mk"}, "mark": {"type": "circle", "opacity": 1}, "encoding": {
"x": {"field": "i", "type": "quantitative", "axis": {"orient": "top", "domain": true, "domainColor": "#6e6e6e", "domainWidth": 1.2, "ticks": false, "labels": false, "grid": false, "title": null}},
"color": {"field": "m", "type": "nominal", "scale": {"domain": ["LA3PTCFF", "REN[LA3PTCFF]", "Wild type", "Grand mean"], "range": ["#00B050", "#FFC000", "#FF0000", "#000000"]}, "legend": {"legendX": 284, "legendY": 158, "columnPadding": 0}},
"size": {"field": "m", "type": "nominal", "scale": {"type": "ordinal", "domain": ["LA3PTCFF", "REN[LA3PTCFF]", "Wild type", "Grand mean"], "range": [34, 34, 133, 133]}, "legend": {"legendX": 284, "legendY": 158, "columnPadding": 0}}}}
]
},
{
"width": 532, "height": 20,
"data": {"name": "arrows"},
"encoding": {"y": {"field": "line", "type": "nominal", "scale": {"type": "point", "domain": ["REN", "FF"], "range": [-10, 8], "padding": 0}, "axis": null}},
"layer": [
{"mark": {"type": "rule", "strokeWidth": 2}, "encoding": {"x": {"datum": 19.3, "type": "quantitative", "scale": {"domain": [0.75, 130.2], "range": [18, 532], "nice": false, "zero": false}, "axis": null}, "x2": {"datum": 42.3}, "color": {"field": "line", "type": "nominal", "scale": {"domain": ["REN", "FF"], "range": ["#FFC000", "#00B050"]}, "legend": null}}},
{"mark": {"type": "rule", "strokeWidth": 2}, "encoding": {"x": {"datum": 102, "type": "quantitative"}, "x2": {"datum": 124.7}, "color": {"field": "line", "type": "nominal"}}},
{"mark": {"type": "point", "shape": "M-1,-1L1,0L-1,1", "filled": false, "size": 100, "strokeWidth": 2, "opacity": 1}, "encoding": {"x": {"datum": 123.5, "type": "quantitative"}, "color": {"field": "line", "type": "nominal"}}},
{"mark": {"type": "text", "font": "Lato", "fontWeight": "bold", "fontSize": 15, "color": "#000", "align": "center", "baseline": "middle"}, "encoding": {"x": {"datum": 72.1, "type": "quantitative"}, "text": {"value": "Personalized ribosome variants"}}}
]
}
]
}
